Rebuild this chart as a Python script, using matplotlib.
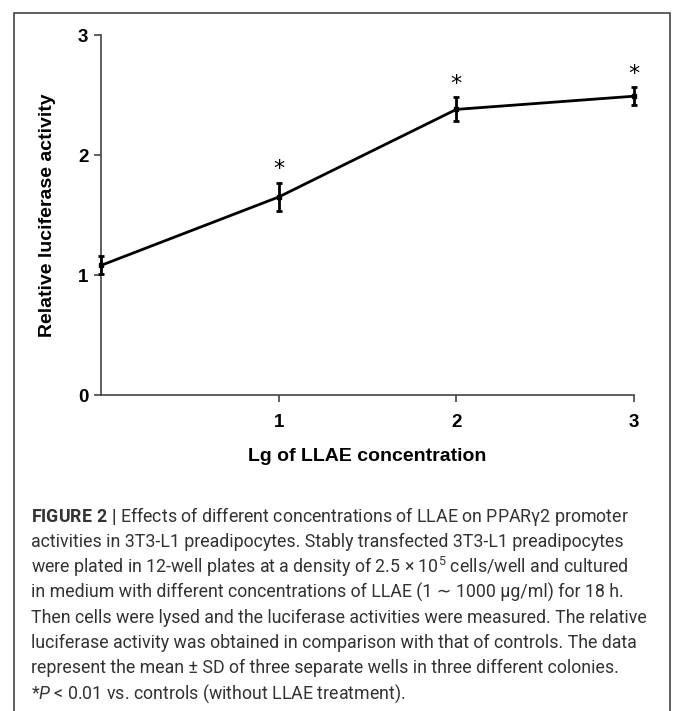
import matplotlib
matplotlib.use("Agg")
import matplotlib.pyplot as plt
from matplotlib.patches import Rectangle

# data
lg_conc = [0, 1, 2, 3]
activity = [1.08, 1.65, 2.38, 2.49]
sd = [0.075, 0.12, 0.10, 0.075]
significant = [False, True, True, True]

x_ticks = [1, 2, 3]
y_ticks = [0, 1, 2, 3]

caption_lines = [
    r"$\mathbf{FIGURE\ 2\ |}$ Effects of different concentrations of LLAE on PPARγ2 promoter",
    "activities in 3T3-L1 preadipocytes. Stably transfected 3T3-L1 preadipocytes",
    r"were plated in 12-well plates at a density of 2.5 $\times$ 10$^{5}$ cells/well and cultured",
    "in medium with different concentrations of LLAE (1 ∼ 1000 μg/ml) for 18 h.",
    "Then cells were lysed and the luciferase activities were measured. The relative",
    "luciferase activity was obtained in comparison with that of controls. The data",
    "represent the mean ± SD of three separate wells in three different colonies.",
    r"*$\mathit{P}$ < 0.01 vs. controls (without LLAE treatment).",
]

plt.rcParams["font.family"] = ["Liberation Sans", "DejaVu Sans"]
plt.rcParams["mathtext.fontset"] = "custom"
plt.rcParams["mathtext.rm"] = "Roboto"
plt.rcParams["mathtext.it"] = "Roboto:italic"
plt.rcParams["mathtext.bf"] = "Roboto:bold"

fig = plt.figure(figsize=(6.73, 7.11), dpi=100)

# outer frame around the figure panel
fig.patches.append(Rectangle((14 / 673, -0.05), 656 / 673, 1.05 - 13 / 711,
                             transform=fig.transFigure, fill=False,
                             edgecolor="#444444", linewidth=1.2))

ax = fig.add_axes([101 / 673, 1 - 395 / 711, 533 / 673, 360 / 711])
ax.errorbar(lg_conc, activity, yerr=sd, color="black", linewidth=2,
            marker="s", markersize=3.5, elinewidth=2, capsize=2.5,
            capthick=2, clip_on=False, zorder=3)

for x, y, e, s in zip(lg_conc, activity, sd, significant):
    if s:
        ax.text(x, y + e + 0.11, "*", ha="center", va="center",
                fontsize=16, family="DejaVu Sans")

ax.set_xlim(0, 3)
ax.set_ylim(0, 3)
ax.set_xticks(x_ticks)
ax.set_yticks(y_ticks)
ax.set_xticklabels([str(t) for t in x_ticks], fontsize=13.5, fontweight="bold")
ax.set_yticklabels([str(t) for t in y_ticks], fontsize=13.5, fontweight="bold")
ax.tick_params(axis="both", length=5, width=1.2, color="#444444", pad=4)
ax.tick_params(axis="x", pad=9)
for side in ["top", "right"]:
    ax.spines[side].set_visible(False)
for side in ["left", "bottom"]:
    ax.spines[side].set_color("#444444")
    ax.spines[side].set_linewidth(1.2)

ax.set_xlabel("Lg of LLAE concentration", fontsize=14, fontweight="bold",
              labelpad=12)
ax.set_ylabel("Relative luciferase activity", fontsize=14, fontweight="bold",
              labelpad=16)

# caption
for i, line in enumerate(caption_lines):
    fig.text(31 / 673, 1 - (517 + i * 25.2) / 711, line, ha="left", va="center",
             fontsize=12.8, family=["Roboto", "DejaVu Sans"], color="#333333")

fig.savefig("out.png", dpi=100)
